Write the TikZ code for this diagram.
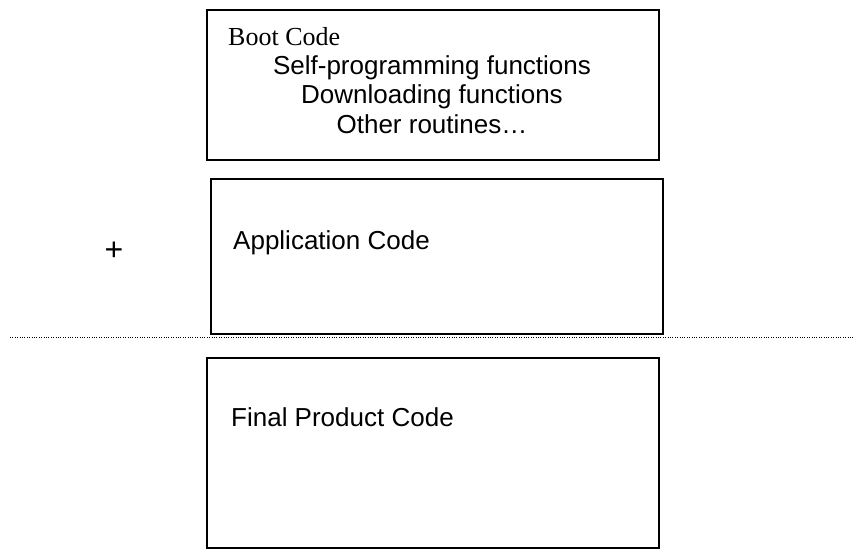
\documentclass[tikz,border=0pt]{standalone}
\usepackage{fontspec}
\setmainfont{Liberation Sans}
\newfontfamily\timesfont{Liberation Serif}
\usetikzlibrary{positioning}

\tikzset{
  codebox/.style={draw, line width=1.8pt, inner sep=0pt},
  codetext/.style={font=\fontsize{26}{30}\selectfont, inner sep=0pt, anchor=base},
}

\begin{document}
\begin{tikzpicture}[x=1pt, y=-1pt]
  \useasboundingbox (0,0) rectangle (854,550);
  % boxes
  \node[codebox, minimum width=452pt, minimum height=150pt] (boot) at (433,85) {};
  \node[codebox, minimum width=452pt, minimum height=155pt] (app) at (437,256.5) {};
  \node[codebox, minimum width=452pt, minimum height=190pt] (final) at (433,453) {};
  % separator
  \coordinate (sepL) at (10,337);
  \coordinate (sepR) at (854,337);
  \draw[line width=0.8pt, dash pattern=on 1pt off 1.4pt] (sepL) -- (sepR);
  % texts
  \node[codetext, anchor=base west, font=\timesfont\fontsize{26}{30}\selectfont] (boottitle) at (228,45) {Boot Code};
  \node[codetext] (selfprog) at (432,74) {Self-programming functions};
  \node[codetext] (download) at (432,103.5) {Downloading functions};
  \node[codetext] (other) at (432,133) {Other routines\ldots};
  \node[codetext, anchor=base west] (apptitle) at (233,249) {Application Code};
  \node[codetext, anchor=base west] (finaltitle) at (231,426) {Final Product Code};
  \node[codetext, anchor=center, font=\fontsize{32}{36}\selectfont] (plus) at (114,251) {+};
\end{tikzpicture}
\end{document}
